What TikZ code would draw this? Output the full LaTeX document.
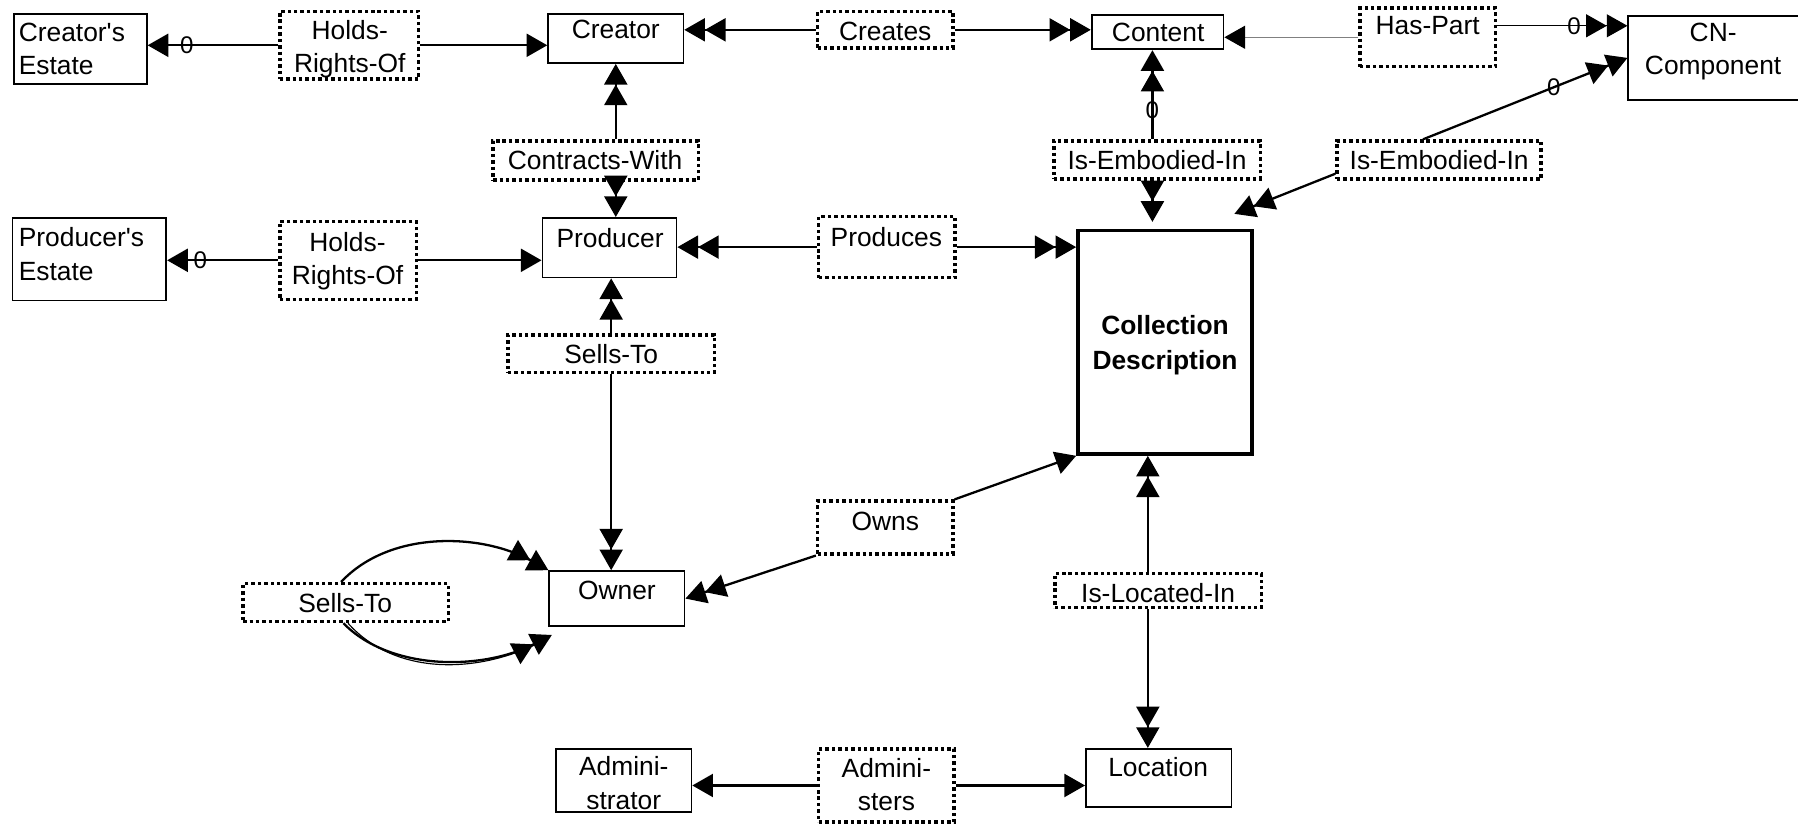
\documentclass[tikz,border=0pt]{standalone}
\usepackage{fontspec}
\setmainfont{Liberation Sans}
\usetikzlibrary{arrows.meta,fit,calc}
\begin{document}
\begin{tikzpicture}[x=0.5pt,y=-0.5pt,
 box/.style={draw, line width=0.75pt, inner sep=0pt},
 rel/.style={draw, line width=1.5pt, dash pattern=on 1.5pt off 1.3pt, inner sep=0pt},
 bigbox/.style={draw, line width=1.5pt, inner sep=0pt},
 txt/.style={font=\fontsize{11.5}{14.5}\selectfont, inner sep=0pt, align=center},
 ltxt/.style={txt, align=left, anchor=west},
 zero/.style={font=\fontsize{10.5}{12}\selectfont, inner sep=0pt},
 con/.style={line width=1pt},
 thinline/.style={line width=0.5pt},
 a1/.style={-{Triangle[length=9pt,width=10pt,color=black]}},
 a2/.style={-{Triangle[length=9pt,width=10pt,color=black]Triangle[length=9pt,width=10pt,color=black]}},
]
\useasboundingbox (0,0) rectangle (1568,718);
% entity and relation boxes
\node[box, fit={(12,12) (128,73)}] (ce) {};
\node[ltxt] at (16,42.5) {Creator\textquotesingle s\\Estate};
\node[rel, fit={(244,10) (365,69)}] (hr1) {};
\node[txt] at (305,43) {Holds-\\Rights-Of};
\node[box, fit={(478,12) (596,55)}] (cr) {};
\node[txt] at (537,26) {Creator};
\node[rel, fit={(713,10) (831,42)}] (crs) {};
\node[txt] at (772,27) {Creates};
\node[box, fit={(952,13) (1067,43)}] (ct) {};
\node[txt] at (1010,28) {Content};
\node[rel, fit={(1186,7) (1304,58)}] (hp) {};
\node[txt] at (1245,22) {Has-Part};
\node[box, fit={(1420,14) (1572,87)}] (cn) {};
\node[txt] at (1494,45) {CN-\\Component};
\node[rel, fit={(430,123) (609,157)}] (cw) {};
\node[txt] at (519,140) {Contracts-With};
\node[rel, fit={(919,123) (1099,156)}] (ie1) {};
\node[txt] at (1009,140) {Is-Embodied-In};
\node[rel, fit={(1166,123) (1344,156)}] (ie2) {};
\node[txt] at (1255,140) {Is-Embodied-In};
\node[box, fit={(11,190) (145,262)}] (pe) {};
\node[ltxt] at (16,221.5) {Producer\textquotesingle s\\Estate};
\node[rel, fit={(244,193) (363,261)}] (hr2) {};
\node[txt] at (303,227.5) {Holds-\\Rights-Of};
\node[box, fit={(473,190) (590,242)}] (pr) {};
\node[txt] at (532,208) {Producer};
\node[rel, fit={(714,189) (833,242)}] (pd) {};
\node[txt] at (773,207) {Produces};
\node[bigbox, fit={(940,201) (1092,396)}] (cd) {};
\node[txt, font=\fontsize{11.5}{15}\selectfont\bfseries] at (1016,301) {Collection\\Description};
\node[rel, fit={(443,292) (623,325)}] (st1) {};
\node[txt] at (533,309) {Sells-To};
\node[rel, fit={(713,437) (831,483)}] (ows) {};
\node[txt] at (772,455) {Owns};
\node[box, fit={(479,498) (597,546)}] (ow) {};
\node[txt] at (538,515) {Owner};
\node[rel, fit={(212,509) (391,542)}] (st2) {};
\node[txt] at (301,526) {Sells-To};
\node[rel, fit={(920,500) (1100,530)}] (ilo) {};
\node[txt] at (1010,517) {Is-Located-In};
\node[box, fit={(485,653) (603,708)}] (ad) {};
\node[txt] at (544,683) {Admini-\\strator};
\node[rel, fit={(714,653) (832,717)}] (ads) {};
\node[txt] at (773,684) {Admini-\\sters};
\node[box, fit={(947,653) (1074,704)}] (lo) {};
\node[txt] at (1010,669) {Location};
% connectors
\draw[con,a1] (hr1.west) -- (hr1.west -| ce.east) node[zero,pos=0.7]{0};
\draw[con,a1] (hr1.east) -- (hr1.east -| cr.west);
\draw[con,a2] (crs.west) -- (crs.west -| cr.east);
\draw[con,a2] (crs.east) -- (crs.east -| ct.west);
\draw[thinline,draw=gray,a1] (hp.west) -- (hp.west -| ct.east);
\draw[thinline,a2] ([yshift=5pt]hp.east) -- ([yshift=5pt]hp.east -| cn.west) node[zero,pos=0.59]{0};
\coordinate (cwn) at (cw.north -| cr.south);
\coordinate (cws) at (cw.south -| cr.south);
\draw[con,a2] (cwn) -- (cr.south);
\draw[con,a2] (cws) -- (cws |- pr.north);
\draw[con,a2] ($(ie1.north)+(-4,0)$) -- ($(ie1.north |- ct.south)+(-4,0)$) node[zero,pos=0.325]{0};
\draw[con,a2] ($(ie1.south)+(-4,0)$) -- ($(ie1.south |- cd.north)+(-4,-6)$);
\draw[con,a2] ([xshift=-7pt]ie2.north) -- (cn.west) node[zero,pos=0.64]{0};
\draw[con,a2] ([yshift=-6pt]ie2.west) -- ($(cd.north east)+(-17,-13)$);
\draw[con,a1] (hr2.west) -- (hr2.west -| pe.east) node[zero,pos=0.7]{0};
\draw[con,a1] (hr2.east) -- (hr2.east -| pr.west);
\draw[con,a2] (pd.west) -- (pd.west -| pr.east);
\draw[con,a2] (pd.east) -- (pd.east -| cd.west);
\draw[con,a2] (st1.north) -- (st1.north |- pr.south);
\draw[con,a2] (st1.south) -- (st1.south |- ow.north);
\draw[con,a1] (ows.north east) -- (cd.south west);
\draw[con,a2] (ows.south west) -- (ow.east);
\draw[con,a2] ([xshift=-2pt]st2.north) .. controls (340,462) and (420,465) .. (ow.north west);
\draw[con,a2] ([xshift=-1pt]st2.south) .. controls (340,585) and (420,585) .. ($(ow.south west)+(3,7)$);
\draw[thinline] ([xshift=1pt]st2.south) .. controls (345,590) and (420,589) .. ($(ow.south west)+(1,9)$);
\draw[con,a2] ($(ilo.north)+(-9,0)$) -- ($(ilo.north |- cd.south)+(-9,0)$);
\draw[con,a2] ($(ilo.south)+(-9,0)$) -- ($(ilo.south |- lo.north)+(-9,0)$);
\draw[con,a1] (ads.west) -- (ads.west -| ad.east);
\draw[con,a1] (ads.east) -- (ads.east -| lo.west);
\end{tikzpicture}
\end{document}
